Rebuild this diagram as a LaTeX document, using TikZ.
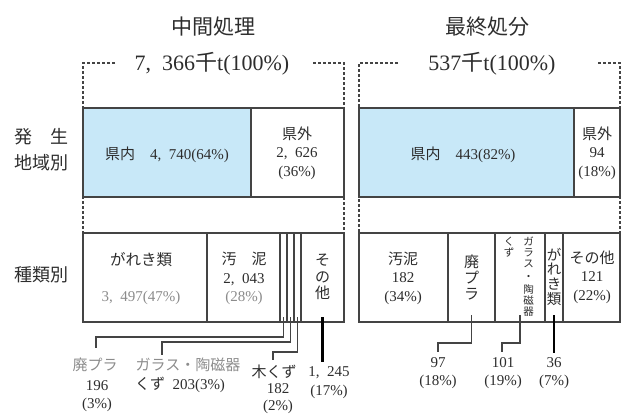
\documentclass[tikz,border=0pt]{standalone}
\usepackage{fontspec}
\setmainfont{Liberation Serif}
\newfontfamily\jp{Noto Sans CJK JP}
\definecolor{kennai}{RGB}{200,232,248}
\definecolor{barline}{RGB}{68,68,68}
\definecolor{ink}{RGB}{45,45,45}
\definecolor{pale}{RGB}{140,140,140}

\begin{document}
\begin{tikzpicture}[x=1pt,y=-1pt]
\tikzset{seg/.style={draw=barline, line width=1.5pt, fill=white, inner sep=0pt, outer sep=0pt, minimum height=89pt, anchor=north west},
  blueseg/.style={seg, fill=kennai},
  txt/.style={text=ink, inner sep=0pt, align=center, font=\fontsize{15}{18.5}\selectfont},
  jtxt/.style={txt, font=\jp\fontsize{15}{18.5}\selectfont},
  title/.style={txt, font=\jp\fontsize{21}{24}\selectfont},
  total/.style={txt, font=\fontsize{22}{24}\selectfont},
  rowname/.style={txt, font=\jp\fontsize{18}{22}\selectfont},
  dashline/.style={draw=barline, line width=1.2pt, dash pattern=on 3pt off 2pt},
  leadline/.style={draw=barline, line width=1.5pt},
  heavyline/.style={draw=black, line width=2.5pt}}
\useasboundingbox (0,0) rectangle (622,416);
\node[title] (tmid) at (213,27) {中間処理};
\node[title] (tfin) at (487,27) {最終処分};
\node[total] (totmid) at (212,64) {7,\enskip366{\jp 千}t(100\%)};
\node[total] (totfin) at (492,64) {537{\jp 千}t(100\%)};
\draw[dashline] (115,63) -- (83,63) -- (83,233);
\draw[dashline] (313,63) -- (344,63) -- (344,233);
\draw[dashline] (398,63) -- (359,63) -- (359,233);
\draw[dashline] (598,63) -- (620,63) -- (620,233);
\node[rowname] (rhassei) at (41,137) {発　生};
\node[rowname] (rchiiki) at (41,163) {地域別};
\node[rowname] (rshurui) at (41,275) {種類別};
\node[blueseg, minimum width=168pt] (kennaiM) at (83,108) {};
\node[seg, minimum width=93pt] (kengaiM) at (251,108) {};
\node[blueseg, minimum width=215pt] (kennaiF) at (359,108) {};
\node[seg, minimum width=46pt] (kengaiF) at (574,108) {};
\node[txt] (kennaiMt) at (167,155) {{\jp 県内　}4,\enskip740(64\%)};
\node[txt] (kengaiMt) at (297,153) {{\jp 県外}\\2,\enskip626\\(36\%)};
\node[txt] (kennaiFt) at (463,155) {{\jp 県内　}443(82\%)};
\node[txt] (kengaiFt) at (597,153) {{\jp 県外}\\94\\(18\%)};
\node[seg, minimum width=124pt] (garekiM) at (83,233) {};
\node[seg, minimum width=73pt] (odeiM) at (207,233) {};
\node[seg, minimum width=7pt] (haipuraM) at (280,233) {};
\node[seg, minimum width=7pt] (garasuM) at (287,233) {};
\node[seg, minimum width=7pt] (mokuM) at (294,233) {};
\node[seg, minimum width=43pt] (sonotaM) at (301,233) {};
\node[seg, minimum width=89pt] (odeiF) at (359,233) {};
\node[seg, minimum width=47pt] (haipuraF) at (448,233) {};
\node[seg, minimum width=50pt] (garasuF) at (495,233) {};
\node[seg, minimum width=18pt] (garekiF) at (545,233) {};
\node[seg, minimum width=57pt] (sonotaF) at (563,233) {};
\node[jtxt, font=\jp\fontsize{15.5}{18.5}\selectfont] (garekiMt) at (141,260) {がれき類};
\node[txt, text=pale] (garekiMn) at (141,298) {3,\enskip497(47\%)};
\node[txt] (odeiMt) at (244,278.5) {{\jp 汚　泥}\\2,\enskip043\\\textcolor{pale}{(28\%)}};
\node[jtxt, font=\jp\fontsize{15}{16.6}\selectfont] (sonotaMt) at (322.5,277) {そ\\の\\他};
\node[txt] (odeiFt) at (403,278) {{\jp 汚泥}\\182\\(34\%)};
\node[jtxt, font=\jp\fontsize{15}{16}\selectfont] (haipuraFt) at (471.5,277.5) {廃\\プ\\ラ};
\node[jtxt, font=\jp\fontsize{10.5}{11}\selectfont] (garasuFt) at (528.5,277) {ガ\\ラ\\ス\\[2pt]・\\[2pt]陶\\磁\\器};
\node[jtxt, font=\jp\fontsize{10.5}{11}\selectfont] (garasuFk) at (509,247.5) {く\\ず};
\node[jtxt, font=\jp\fontsize{14.5}{14.8}\selectfont] (garekiFt) at (554,276.7) {が\\れ\\き\\類};
\node[txt] (sonotaFt) at (592,277) {{\jp その他}\\121\\(22\%)};
\coordinate (k1) at (96,337);
\coordinate (e1) at (96,348);
\coordinate (k2) at (162,342);
\coordinate (e2) at (162,355);
\coordinate (k3) at (273,352);
\coordinate (e3) at (273,360);
\coordinate (e4) at (322.5,362);
\coordinate (k5) at (438,343);
\coordinate (e5) at (438,352);
\coordinate (k6) at (502,343);
\coordinate (e6) at (502,352);
\coordinate (e7) at (554,353);
\draw[leadline] ([yshift=5pt]haipuraM.south) |- (k1) -- (e1);
\draw[leadline] ([yshift=5pt]garasuM.south) |- (k2) -- (e2);
\draw[leadline] ([yshift=5pt]mokuM.south) |- (k3) -- (e3);
\draw[heavyline] ([yshift=5pt]sonotaM.south) -- (e4);
\draw[leadline] ([yshift=7pt]haipuraF.south) |- (k5) -- (e5);
\draw[leadline] ([yshift=7pt]garasuF.south) |- (k6) -- (e6);
\draw[heavyline] ([yshift=7pt]garekiF.south) -- (e7);
\node[jtxt, text=pale] (haipuraL) at (95,365) {廃プラ};
\node[txt] (haipuraN) at (97,396) {196\\(3\%)};
\node[jtxt, text=pale] (garasuL) at (188,365) {ガラス・陶磁器};
\node[txt] (garasuN) at (180,385) {{\jp くず}\enskip203(3\%)};
\node[jtxt] (mokuL) at (274,372) {木くず};
\node[txt, font=\fontsize{15}{16.5}\selectfont] (mokuN) at (278,398.5) {182\\(2\%)};
\node[txt] (sonotaN) at (329,382.5) {1,\enskip245\\(17\%)};
\node[txt] (haipuraFN) at (438,373.3) {97\\(18\%)};
\node[txt] (garasuFN) at (503,373.3) {101\\(19\%)};
\node[txt] (garekiFN) at (554,373.3) {36\\(7\%)};
\end{tikzpicture}
\end{document}
